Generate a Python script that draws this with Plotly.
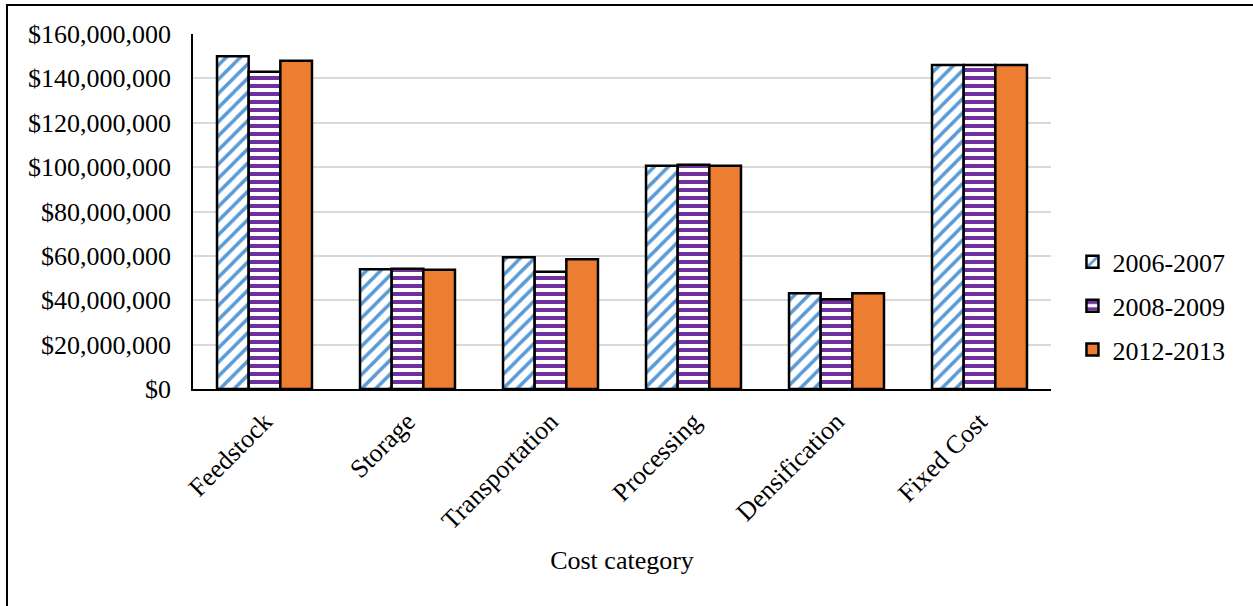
import plotly.graph_objects as go

# Cost categories and annual totals (USD) for each period
categories = ["Feedstock", "Storage", "Transportation", "Processing", "Densification", "Fixed Cost"]
cost_2006_2007 = [150_000_000, 54_000_000, 59_400_000, 100_600_000, 43_100_000, 146_000_000]
cost_2008_2009 = [143_000_000, 54_200_000, 52_900_000, 101_100_000, 40_400_000, 146_000_000]
cost_2012_2013 = [148_000_000, 53_800_000, 58_500_000, 100_600_000, 43_100_000, 146_000_000]
y_ticks = [0, 20_000_000, 40_000_000, 60_000_000, 80_000_000, 100_000_000, 120_000_000, 140_000_000, 160_000_000]
y_tick_labels = ["$0", "$20,000,000", "$40,000,000", "$60,000,000", "$80,000,000",
                 "$100,000,000", "$120,000,000", "$140,000,000", "$160,000,000"]

FONT = "Liberation Serif, Times New Roman, serif"
FONT_SIZE = 26
OUTLINE = dict(color="black", width=2.5)

fig = go.Figure()
fig.add_trace(go.Bar(
    name="2006-2007", x=categories, y=cost_2006_2007, legendgroup="a",
    marker=dict(color="white", line=OUTLINE,
                pattern=dict(shape="/", fgcolor="#5B9BD5", bgcolor="white",
                             fgopacity=1, size=10, solidity=0.35)),
))
fig.add_trace(go.Bar(
    name="2008-2009", x=categories, y=cost_2008_2009, legendgroup="b",
    marker=dict(color="white", line=OUTLINE,
                pattern=dict(shape="-", fgcolor="#7030A0", bgcolor="white",
                             fgopacity=1, size=8, solidity=0.5)),
))
fig.add_trace(go.Bar(
    name="2012-2013", x=categories, y=cost_2012_2013, legendgroup="c",
    marker=dict(color="#ED7D31", line=OUTLINE),
))

fig.update_layout(
    width=1253, height=606,
    margin=dict(l=193, r=202, t=34, b=217, autoexpand=False),
    paper_bgcolor="white", plot_bgcolor="white",
    font=dict(family=FONT, size=FONT_SIZE, color="black"),
    barmode="group", bargap=0.336, bargroupgap=0,
    showlegend=True,
    legend=dict(x=1.025, y=0.234, xanchor="left", yanchor="middle",
                traceorder="grouped", tracegroupgap=7, itemwidth=30,
                font=dict(family=FONT, size=FONT_SIZE, color="black"),
                bgcolor="rgba(0,0,0,0)"),
    xaxis=dict(
        showline=True, linecolor="black", linewidth=2,
        tickangle=-45, ticks="", ticklabelstandoff=5,
        tickfont=dict(family=FONT, size=FONT_SIZE, color="black"),
        title=dict(text="Cost category", standoff=17,
                   font=dict(family=FONT, size=FONT_SIZE, color="black")),
        automargin=False,
    ),
    yaxis=dict(
        range=[0, 160_000_000], tickvals=y_ticks, ticktext=y_tick_labels,
        showgrid=True, gridcolor="#d9d9d9", gridwidth=1.5,
        showline=True, linecolor="black", linewidth=1.5,
        zeroline=False, ticks="", ticklabelstandoff=15,
        tickfont=dict(family=FONT, size=FONT_SIZE, color="black"),
        automargin=False,
    ),
    shapes=[dict(type="rect", xref="paper", yref="paper",
                 x0=-0.2168, x1=1.3, y0=-0.8, y1=1.0817,
                 line=dict(color="black", width=2), layer="below")],
)

fig.write_html("out.html")
